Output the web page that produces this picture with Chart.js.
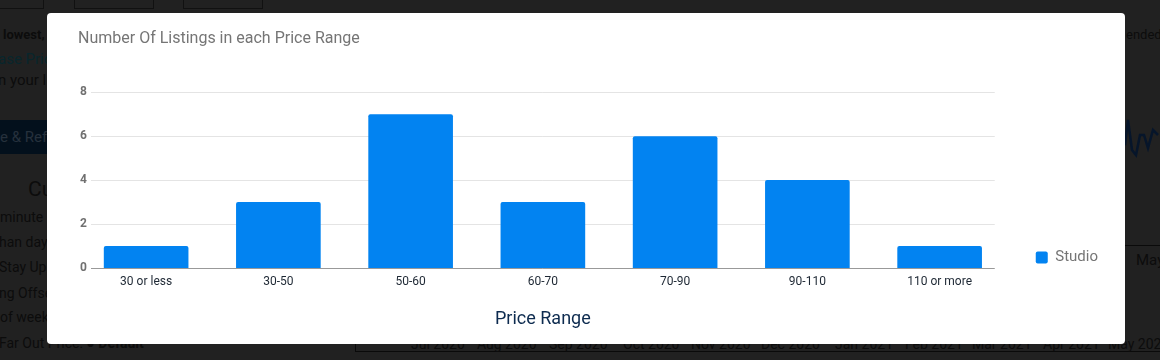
<!DOCTYPE html>
<html>
<head>
<meta charset="utf-8">
<script src="https://cdn.jsdelivr.net/npm/chart.js@4.4.0/dist/chart.umd.min.js"></script>
<style>
  html,body{margin:0;padding:0;}
  body{width:1160px;height:360px;overflow:hidden;position:relative;background:#212121;font-family:Roboto,Arial,sans-serif;color:#0c0c0c;}
  .bg{position:absolute;white-space:nowrap;}
  .mo{position:absolute;top:336px;font-size:14px;white-space:nowrap;}
  .tab{position:absolute;top:-2px;height:9px;border:1px solid #111;}
  .modal{position:absolute;left:47px;top:13px;width:1078px;height:331px;background:#fff;border-radius:4px;overflow:hidden;}
  .modal canvas{display:block;}
</style>
</head>
<body>
<!-- page behind the dialog, dimmed -->
<div class="tab" style="left:-2px;width:44px"></div>
<div class="tab" style="left:74px;width:78px"></div>
<div class="tab" style="left:183px;width:78px"></div>
<div class="bg" style="left:3px;top:27px;font-size:13px;font-weight:bold">lowest,</div>
<div class="bg" style="left:-2px;top:50px;font-size:15px;color:#08262c">ase Pric</div>
<div class="bg" style="left:-2px;top:71px;font-size:15px">n your l</div>
<div class="bg" style="left:0;top:120px;width:47px;height:34px;background:#03101c;color:#26313c;font-size:15px;line-height:34px">e &amp; Ref</div>
<div class="bg" style="left:28px;top:177px;font-size:21px">Cu</div>
<div class="bg" style="left:0;top:209px;font-size:14px">minute</div>
<div class="bg" style="left:-1px;top:234px;font-size:14px">han day</div>
<div class="bg" style="left:-1px;top:259px;font-size:14px">Stay Up</div>
<div class="bg" style="left:-1px;top:285px;font-size:14px">ng Offse</div>
<div class="bg" style="left:0;top:309px;font-size:14px">of week</div>
<div class="bg" style="left:-1px;top:335px;font-size:14px">Far Out Price: <b>&#9679; Default</b></div>
<div class="bg" style="left:1126px;top:27px;font-size:13px">ended</div>
<div class="bg" style="left:1136px;top:251px;font-size:15px">May</div>
<div class="bg" style="left:355px;top:245px;width:820px;height:106px;border-left:1px solid #0a0a0a;border-bottom:1px solid #0a0a0a"></div>
<div class="bg" style="left:1125px;top:245px;width:40px;border-top:1px solid #0a0a0a"></div>
<div class="mo" style="left:411px">Jul 2020</div>
<div class="mo" style="left:477px">Aug 2020</div>
<div class="mo" style="left:549px">Sep 2020</div>
<div class="mo" style="left:623px">Oct 2020</div>
<div class="mo" style="left:691px">Nov 2020</div>
<div class="mo" style="left:761px">Dec 2020</div>
<div class="mo" style="left:835px">Jan 2021</div>
<div class="mo" style="left:905px">Feb 2021</div>
<div class="mo" style="left:972px">Mar 2021</div>
<div class="mo" style="left:1043px">Apr 2021</div>
<div class="mo" style="left:1108px">May 2021</div>
<svg class="bg" style="left:1100px;top:90px" width="60" height="90"><polyline fill="none" stroke="#06152a" stroke-width="2.5" points="20,10 23,40 25,55 28,30 32,60 36,65 40,45 44,45 48,58 53,40 58,45"/></svg>

<div class="modal"><canvas id="chart" width="1078" height="331"></canvas></div>

<script>
const categories = ['30 or less', '30-50', '50-60', '60-70', '70-90', '90-110', '110 or more'];
const studio = [1, 3, 7, 3, 6, 4, 1];
const yTicks = [0, 2, 4, 6, 8];

// grid only across the inner part of the plot, like the original widget
const innerGrid = {
  id: 'innerGrid',
  beforeDatasetsDraw(chart){
    const {ctx, chartArea, scales:{y}} = chart;
    ctx.save();
    ctx.strokeStyle = '#e4e4e4'; ctx.lineWidth = 1;
    yTicks.forEach(v=>{
      if(v===0) return;
      const py = Math.round(y.getPixelForValue(v)) + 0.5;
      ctx.beginPath(); ctx.moveTo(chartArea.left+11, py); ctx.lineTo(chartArea.right-11, py); ctx.stroke();
    });
    ctx.restore();
  },
  afterDatasetsDraw(chart){
    const {ctx, chartArea, scales:{y}} = chart;
    const py = Math.round(y.getPixelForValue(0)) + 0.5;
    ctx.save();
    ctx.strokeStyle = '#999'; ctx.lineWidth = 1;
    ctx.beginPath(); ctx.moveTo(chartArea.left+11, py); ctx.lineTo(chartArea.right-11, py); ctx.stroke();
    ctx.restore();
  }
};

new Chart(document.getElementById('chart'), {
  type: 'bar',
  data: {
    labels: categories,
    datasets: [{
      label: 'Studio',
      data: studio,
      backgroundColor: '#0283f1',
      borderRadius: {topLeft: 2, topRight: 2},
      borderSkipped: 'start',
      barPercentage: 0.64,
      categoryPercentage: 1
    }]
  },
  options: {
    responsive: false,
    animation: false,
    layout: {padding: {left: 31, right: 17, top: 0, bottom: 10}},
    plugins: {
      title: {
        display: true,
        text: 'Number Of Listings in each Price Range',
        align: 'start',
        color: '#757575',
        font: {family: 'Roboto', size: 16, weight: 'normal'},
        padding: {top: 16, bottom: 44}
      },
      legend: {
        position: 'right',
        align: 'end',
        fullSize: false,
        labels: {
          boxWidth: 12, boxHeight: 12,
          useBorderRadius: true, borderRadius: 2,
          color: '#757575',
          font: {family: 'Roboto', size: 15},
          padding: 3
        }
      },
      tooltip: {enabled: false}
    },
    scales: {
      x: {
        grid: {display: false, drawTicks: false},
        border: {display: false},
        ticks: {color: '#1d2733', font: {family: 'Roboto', size: 12}, padding: 7},
        title: {
          display: true, text: 'Price Range', color: '#0d2b4f',
          font: {family: 'Roboto', size: 18}, padding: {top: 12, bottom: 4}
        }
      },
      y: {
        min: 0, max: 8,
        afterBuildTicks: s => { s.ticks = yTicks.map(v => ({value: v})); },
        afterFit: s => { s.width = 2; },
        grid: {display: false, drawTicks: false},
        border: {display: false},
        ticks: {mirror: true, padding: 0, color: '#707070', font: {family: 'Roboto', size: 12, weight: 'bold'}}
      },
      // empty spacer between plot and legend
      gap: {
        type: 'linear', position: 'right', display: true,
        afterFit: s => { s.width = 27; },
        grid: {display: false}, border: {display: false}, ticks: {display: false}
      }
    }
  },
  plugins: [innerGrid]
});
</script>
</body>
</html>
